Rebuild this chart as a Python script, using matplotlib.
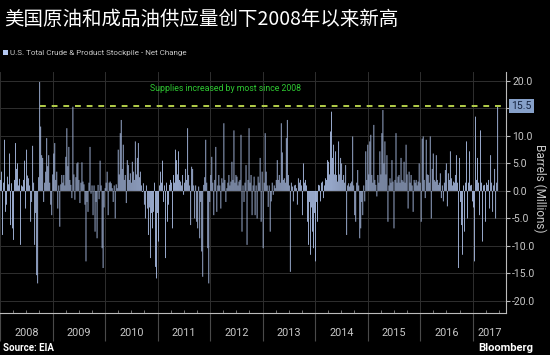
import pandas as pd
import matplotlib.pyplot as plt
import matplotlib.dates as mdates
import matplotlib.transforms as mtransforms
from matplotlib.patches import Rectangle

# Weekly net change in U.S. crude & product stockpiles (million barrels)
chg_2008 = [2.0, 3.5, -8.0, 1.5, 9.3, -3.8, -2.5, 2.6, 1.2, 6.8,
            -6.2, 1.4, -6.8, -8.9, 2.0, 8.7, 4.0, 5.0, 1.0, 2.2,
            -9.8, 1.0, 0.8, 2.0, 5.5, -3.2, 7.5, 2.8, 2.3, 1.0,
            -5.6, -2.0, 8.2, 1.5, -9.8, -4.0, -15.3, -16.8, 2.5, 19.8,
            11.7, 6.5, 6.0, -2.0, 1.5, 3.5, 9.6, 4.5, 6.5, 1.5, -2.5, -4.4]
chg_2009 = [3.0, 6.8, 8.7, 2.0, 3.5, -3.2, 1.0, -6.5, 1.2, 2.9,
            1.5, 2.9, 1.0, 6.2, 11.4, 4.5, 8.0, 2.0, 1.1, -1.3,
            15.3, 3.0, -1.6, 2.5, 5.0, 5.2, 2.0, -2.2, 1.5, 5.2,
            1.7, 1.2, -2.5, -12.8, -2.0, -3.8, 1.5, 8.0, -0.5, 1.0,
            -4.4, 1.0, -7.4, -2.0, -8.6, 1.1, -1.5, 5.5, 1.0, -10.4,
            -14.0, -3.0]
chg_2010 = [0.5, 1.5, 3.5, -4.4, 1.5, 1.7, 1.4, 0.5, -2.0, 1.0,
            -5.0, 1.2, 0.5, 7.5, 3.0, 10.5, 12.9, 4.0, 8.4, 2.0,
            2.9, -2.2, 5.6, 4.7, 2.0, 3.2, 1.5, 5.3, 3.5, 2.0,
            9.0, 3.0, 6.0, 8.7, 2.5, 3.5, 1.0, -0.2, 1.4, -2.5,
            -5.0, 1.0, -3.2, -8.0, -3.0, -12.2, -4.0, -6.8, -3.8, 1.5,
            -13.8, -15.9, -4.0]
chg_2011 = [-9.2, 1.0, 3.5, 1.5, 5.5, -2.0, 1.0, -12.2, 1.5, -5.6,
            -2.5, 1.1, 2.0, 1.5, -6.8, 2.9, 1.5, 7.5, 5.6, 3.0,
            7.2, 2.0, 1.7, 1.0, 2.9, -0.7, 1.5, 4.0, 2.0, 11.4,
            2.9, 1.0, -6.2, 4.4, 4.0, 1.0, -5.0, 1.0, -5.6, -6.8,
            0.8, -8.6, -2.0, -11.0, -15.6, 1.1, 2.5, 9.3, 1.5, -10.4,
            -16.8, -2.0]
chg_2012 = [2.9, 6.2, 1.5, -4.4, 2.0, 8.0, -3.8, 1.0, 2.9, 1.0,
            -3.2, 2.3, 1.5, 12.3, 2.0, -2.0, 0.5, 1.5, 2.9, 1.0,
            1.7, 5.3, 2.0, 11.0, 1.5, 2.9, 2.6, 1.0, 1.7, 2.0,
            10.2, -7.4, 1.0, -2.0, 1.5, 4.7, -9.8, 2.0, 11.4, 1.5,
            2.9, -4.4, 1.0, 2.6, -4.4, 1.0, -5.0, 2.6, 1.5, 6.0,
            -5.6, 3.5]
chg_2013 = [-10.4, 1.5, 10.5, 3.5, 1.0, -2.9, 1.0, -7.4, -1.9, 1.5,
            -0.7, 1.0, 0.5, 2.0, 5.6, 2.0, 2.9, 1.5, 12.3, 7.0,
            2.0, 2.3, 1.5, 9.6, 12.9, 2.9, 1.0, -14.7, 1.5, 0.8,
            -1.9, 1.0, 1.1, 0.5, -2.5, 2.3, 1.5, 2.0, 1.0, -4.4,
            5.0, 1.5, 2.0, 1.0, -5.6, -9.8, -2.0, -11.6, -3.0, -7.4,
            -10.4, -4.0]
chg_2014 = [-12.8, -2.0, -5.6, 1.1, 1.0, -1.9, 1.5, 1.7, -1.3, 1.0,
            2.3, 2.0, 5.6, 5.3, 3.0, 10.8, 14.4, 6.0, 8.4, 3.0,
            7.2, 2.9, 1.7, 9.0, 3.0, 6.0, 5.0, 2.0, 2.9, 1.5,
            4.7, -8.0, 1.0, 1.4, 0.8, 1.4, 1.7, 9.9, 1.0, -4.4,
            -5.6, 1.5, 3.8, 1.0, -8.6, -6.8, -2.0, -4.4, 1.0, -1.9,
            7.2, 2.0]
chg_2015 = [8.4, 3.0, 9.0, 10.2, 2.9, 1.5, 12.0, 2.0, 1.1, -1.0,
            2.9, 1.5, 7.2, 3.0, 10.5, 14.7, 5.0, 9.0, 3.0, 6.5,
            -5.6, 1.0, 2.3, 1.5, 5.6, 1.7, -6.8, 2.0, 10.5, 1.5,
            2.6, 2.9, 1.5, 6.0, 2.0, 1.7, 5.3, 1.5, 8.4, 3.0,
            -3.2, 3.5, 1.5, 2.9, 1.0, -3.8, 2.0, 1.5, 2.0, 1.0,
            1.7, 5.0]
chg_2016 = [1.5, -5.6, 9.5, 9.9, 2.0, -1.3, 9.3, 3.0, 2.9, 1.5,
            9.9, -5.0, 4.0, 6.8, 2.0, 1.7, 6.5, 2.0, 1.1, 1.5,
            3.2, -1.3, 1.0, -1.9, 1.5, 3.8, 5.0, -2.8, 3.2, 2.0,
            7.2, 2.3, 1.0, 1.7, 1.5, 2.9, 6.5, 1.5, -14.0, 6.0,
            -2.0, -6.2, -11.6, 1.0, -7.4, 1.5, 9.0, -5.0, 1.5, 7.2,
            1.0, 1.1, -1.9]
chg_2017 = [-3.0, -12.8, 13.5, 2.0, 6.0, 1.5, -4.4, 11.0, 1.5, -9.2,
            1.0, 1.1, -5.6, 1.5, 1.1, 2.0, -3.2, 6.5, 1.5, -3.8,
            1.0, 4.0, -5.0, 1.5, 15.5]

years = list(range(2008, 2018))
record_value = 15.5
record_start = '2008-10-03'

values = (chg_2008 + chg_2009 + chg_2010 + chg_2011 + chg_2012 +
          chg_2013 + chg_2014 + chg_2015 + chg_2016 + chg_2017)
weeks = pd.date_range('2008-01-04', periods=len(values), freq='7D')

bar_color = '#b3c7f0'
grid_color = '#2f2f2f'
text_color = '#c8c8c8'

fig = plt.figure(figsize=(5.5, 3.55), dpi=100, facecolor='black')
ax = fig.add_axes([0.0, 0.118, 0.92, 0.679], facecolor='black')

# bars are under a pixel wide, so turn off snapping or some years vanish
ax.bar(weeks, values, width=5.8, color=bar_color, zorder=2, snap=False,
       linewidth=0)

x_min = pd.Timestamp('2008-01-01')
x_max = pd.Timestamp('2017-08-20')
ax.set_xlim(x_min, x_max)
ax.set_ylim(-22.2, 21.6)

# record line
ax.hlines(record_value, pd.Timestamp(record_start), x_max, colors='#b4cf4a',
          linestyles=(0, (3, 3)), linewidth=1.4, zorder=3)
ax.text(pd.Timestamp('2010-11-10'), 18.7, 'Supplies increased by most since 2008',
        color='#2ec832', fontsize=6.3, family='Roboto', va='center', ha='left')

# axes styling
for side in ['top', 'left']:
    ax.spines[side].set_visible(False)
ax.spines['right'].set_color('#bbbbbb')
ax.spines['bottom'].set_color('#bbbbbb')
ax.spines['right'].set_linewidth(0.8)
ax.spines['bottom'].set_linewidth(0.8)

yticks = [-20, -15, -10, -5, 0, 5, 10, 15, 20]
ax.yaxis.tick_right()
ax.set_yticks(yticks)
# the 15.0 label sits under the latest-value tag
ax.set_yticklabels(['' if v == 15 else '%.1f' % v for v in yticks])
ax.tick_params(axis='y', colors='#bbbbbb', labelcolor=text_color, length=3,
               width=0.8, pad=1.5, labelsize=7.5)
for lab in ax.get_yticklabels():
    lab.set_family('Roboto')
ax.grid(axis='y', color=grid_color, linewidth=0.7, zorder=0)

ax.xaxis.set_major_locator(mdates.YearLocator())
ax.xaxis.set_minor_locator(mdates.MonthLocator(bymonth=[4, 7, 10]))
ax.xaxis.set_major_formatter(plt.NullFormatter())
ax.tick_params(axis='x', which='major', direction='out', length=20, width=0.8,
               color='#4a4a4a')
ax.tick_params(axis='x', which='minor', direction='in', length=2.5, width=0.6,
               color='#888888')
ax.grid(axis='x', which='major', color=grid_color, linewidth=0.7, zorder=0)

# year labels centred in each year
trans = mtransforms.blended_transform_factory(ax.transData, ax.transAxes)
for y in years:
    start = max(pd.Timestamp(f'{y}-01-01'), x_min)
    end = min(pd.Timestamp(f'{y + 1}-01-01'), x_max)
    mid = start + (end - start) / 2
    ax.text(mid, -0.083, str(y), transform=trans, ha='center', va='center',
            color=text_color, fontsize=7.8, family='Roboto')

# latest value tag
ax.annotate('%.1f' % record_value, xy=(1.0, record_value),
            xycoords=('axes fraction', 'data'), xytext=(4, 0),
            textcoords='offset points', ha='left', va='center',
            fontsize=7.5, family='Roboto', color='#15233f', zorder=5,
            annotation_clip=False,
            bbox=dict(boxstyle='square,pad=0.2', fc='#86a0c9', ec='none'))

fig.text(0.982, 0.47, 'Barrels (Millions)', rotation=270, ha='center', va='center',
         color=text_color, fontsize=8.5, family='Roboto')

# title and legend
fig.text(0.008, 0.944, '美国原油和成品油供应量创下2008年以来新高', color='white',
         fontsize=14, family=['Noto Sans CJK SC', 'DejaVu Sans'], va='center', ha='left')
fig.patches.append(Rectangle((0.006, 0.845), 0.009, 0.014, transform=fig.transFigure,
                             facecolor=bar_color, edgecolor='none'))
fig.text(0.019, 0.852, 'U.S. Total Crude & Product Stockpile - Net Change',
         color=text_color, fontsize=5.8, family='Roboto', va='center', ha='left')

fig.text(0.006, 0.02, 'Source: EIA', color='white', fontsize=7, fontweight='bold',
         family='Roboto', va='center', ha='left')
fig.text(0.97, 0.02, 'Bloomberg', color='white', fontsize=8, fontweight='bold',
         family='Roboto', va='center', ha='right')

fig.savefig('out.png', dpi=100, facecolor='black')
